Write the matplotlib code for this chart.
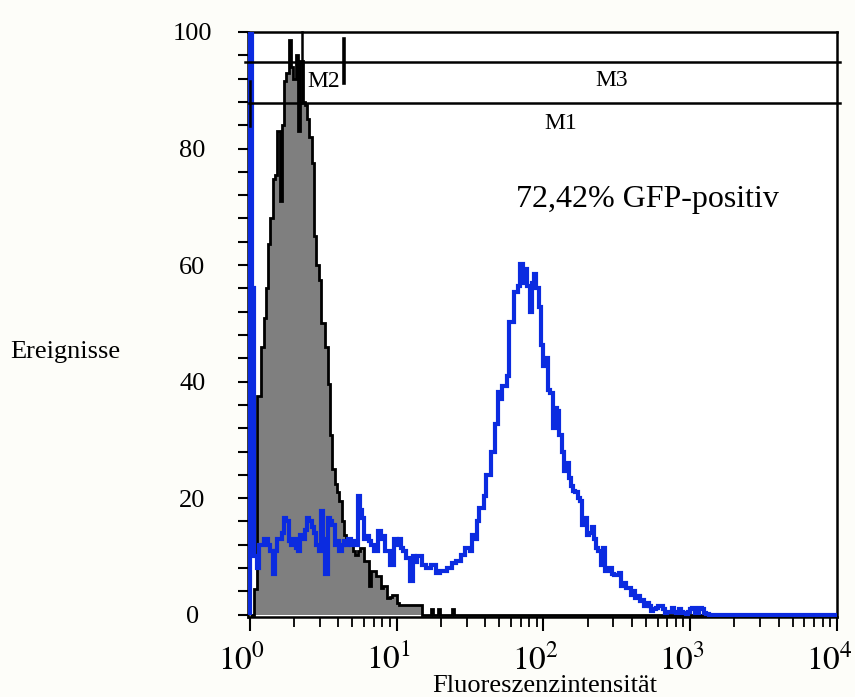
import numpy as np
import matplotlib
matplotlib.use("Agg")
import matplotlib.pyplot as plt
import matplotlib.transforms as mtransforms
from matplotlib.ticker import MultipleLocator, LogLocator, FixedLocator, NullFormatter

plt.rcParams['font.family'] = ['Liberation Serif', 'DejaVu Serif']
plt.rcParams['mathtext.fontset'] = 'stix'

# 256 channels over 4 decades (64 channels per decade)
n_channels = 256
channels_per_decade = 64

# GFP-transfected cells (blue), counts per channel
gfp_counts = [
    300, 56, 10, 8, 12, 12, 13, 13, 12, 11,
    7, 11, 13, 13, 14, 16.6, 16, 12.6, 12, 13,
    11.4, 11, 13.7, 13, 14.5, 16.6, 16, 15, 14, 12,
    11, 17.8, 13, 7, 16.6, 16, 15.4, 12, 12.6, 11,
    12, 12.6, 12, 13, 12, 12.6, 12, 20.3, 18, 16.6,
    13, 13.5, 12.6, 12, 11, 11, 14.4, 13, 13.5, 11,
    11, 8.5, 8.5, 13, 12, 13, 11.4, 11, 9.7, 9.7,
    5.8, 10, 9, 10, 10, 8.5, 8.5, 8, 8, 8.5,
    8.5, 7.2, 7.2, 7.5, 7.5, 7.5, 8, 8, 8.9, 8.9,
    9.2, 9.2, 10.3, 10.3, 11.4, 11.4, 11, 13.7, 13, 16,
    18.3, 18.3, 20.3, 24, 24, 28, 28, 32.8, 38.3, 37,
    39.3, 39.3, 41, 50.2, 50.2, 55.4, 55.4, 56.4, 60.2, 57,
    59.3, 56.4, 52, 57, 58.5, 56, 52.8, 46.2, 42.7, 44,
    38.5, 38, 32, 35.4, 35, 30.8, 28, 24.6, 26, 23.4,
    22, 21.2, 21, 20, 19.5, 15.4, 16.6, 13.7, 14, 15,
    13, 11.4, 11, 8.5, 11.4, 7.5, 8, 8, 7, 6.8,
    6.8, 7.2, 5, 5.5, 4.6, 4.6, 3.4, 4, 2.9, 3.2,
    2.4, 2.6, 1.5, 2, 1.5, 0.7, 1, 1.2, 1.5, 1.5,
    1, 0.3, 0.5, 0.5, 1.2, 0.5, 0.3, 1, 0.5, 0.3,
    0.2, 0.5, 1, 1.2, 0.3, 0.3, 1.2, 1, 0.3, 0.2,
] + [0] * 56

# control cells (grey filled), counts per channel
control_counts = [
    0, 0, 4.4, 37.6, 37.6, 46, 51, 56, 63.6, 68,
    74.7, 75.5, 83, 71, 84, 91.6, 93, 98.6, 94, 92,
    96, 83, 95, 88, 87.5, 85, 82, 77.6, 65, 60,
    57.5, 50, 50, 46, 39.6, 30.8, 25, 22.4, 21, 19.5,
    16, 13.7, 13, 12.5, 12, 11, 10.3, 11, 11.5, 11.5,
    9.2, 9.2, 5, 7.5, 7.5, 6.6, 6.6, 4.6, 5, 5,
    2.9, 3, 3.4, 3.4, 2, 1.7, 1.7, 1.7, 1.7, 1.7,
    1.7, 1.7, 1.7, 1.7, 1.7, 0, 0, 0, 0, 1,
    0, 0, 1, 0, 0, 0, 0, 0, 1,
] + [0] * 167

y_ticks = [0, 20, 40, 60, 80, 100]
x_ticks = [1, 10, 100, 1000, 10000]
x_ticklabels = ['$10^{0}$', '$10^{1}$', '$10^{2}$', '$10^{3}$', '$10^{4}$']

blue = '#0b2be0'

fig = plt.figure(figsize=(8.55, 6.97), dpi=100, facecolor='#fdfdf9')
ax = fig.add_axes([248 / 855, 1 - 617 / 697, 589 / 855, 585 / 697])
ax.set_facecolor('white')

edges = 10 ** (np.arange(n_channels + 1) / channels_per_decade)

ax.stairs(control_counts, edges, fill=True, color='#7f7f7f', zorder=2)
ax.stairs(control_counts, edges, color='black', lw=2.0, zorder=3)
ax.stairs(gfp_counts, edges, color=blue, lw=3.0, zorder=4)

ax.set_xscale('log')
ax.set_xlim(10 ** -0.012, 10 ** 4.0)
ax.set_ylim(-0.4, 100)

# markers M1, M2, M3
mk = dict(color='black', lw=1.8, clip_on=False, zorder=5)
ax.plot([10 ** -0.005, 10 ** 4.02], [87.9, 87.9], **mk)
ax.plot([1.0, 1.0], [83.8, 91.6], **mk)
ax.plot([10 ** -0.034, 10 ** 4.02], [94.9, 94.9], **mk)
ax.plot([4.36, 4.36], [91.3, 98.8], lw=2.6, color='black', clip_on=False, zorder=5)
ax.plot([2.26, 2.26], [87.9, 100], **mk)

ax.text(132, 84.3, 'M1', fontsize=17, ha='center', va='center', zorder=6)
ax.text(3.2, 91.5, 'M2', fontsize=17, ha='center', va='center', zorder=6)
ax.text(290, 91.6, 'M3', fontsize=17, ha='center', va='center', zorder=6)
ax.text(65, 71.3, '72,42% GFP-positiv', fontsize=23, ha='left', va='center')

for s in ax.spines.values():
    s.set_linewidth(1.8)
    s.set_zorder(1)

ax.yaxis.set_major_locator(FixedLocator(y_ticks))
ax.yaxis.set_minor_locator(MultipleLocator(4))
ax.tick_params(axis='y', which='both', direction='out', length=7, width=1.5,
               labelsize=19, pad=33)
for lab in ax.get_yticklabels():
    lab.set_horizontalalignment('center')

ax.xaxis.set_major_locator(FixedLocator(x_ticks))
ax.xaxis.set_minor_locator(LogLocator(base=10, subs=np.arange(2, 10)))
ax.xaxis.set_minor_formatter(NullFormatter())
ax.set_xticklabels(x_ticklabels)
ax.tick_params(axis='x', which='major', direction='out', length=10, width=1.5,
               labelsize=24, pad=7)
ax.tick_params(axis='x', which='minor', direction='out', length=7, width=1.3)
shift = mtransforms.ScaledTranslation(-8 / 100, -3 / 100, fig.dpi_scale_trans)
for lab in ax.get_xticklabels():
    lab.set_transform(lab.get_transform() + shift)

fig.text(545 / 855, 1 - 686 / 697, 'Fluoreszenzintensität', fontsize=19,
         ha='center', va='center')
fig.text(10 / 855, 1 - 352 / 697, 'Ereignisse', fontsize=19,
         ha='left', va='center')

fig.savefig('out.png', dpi=100, facecolor=fig.get_facecolor())
